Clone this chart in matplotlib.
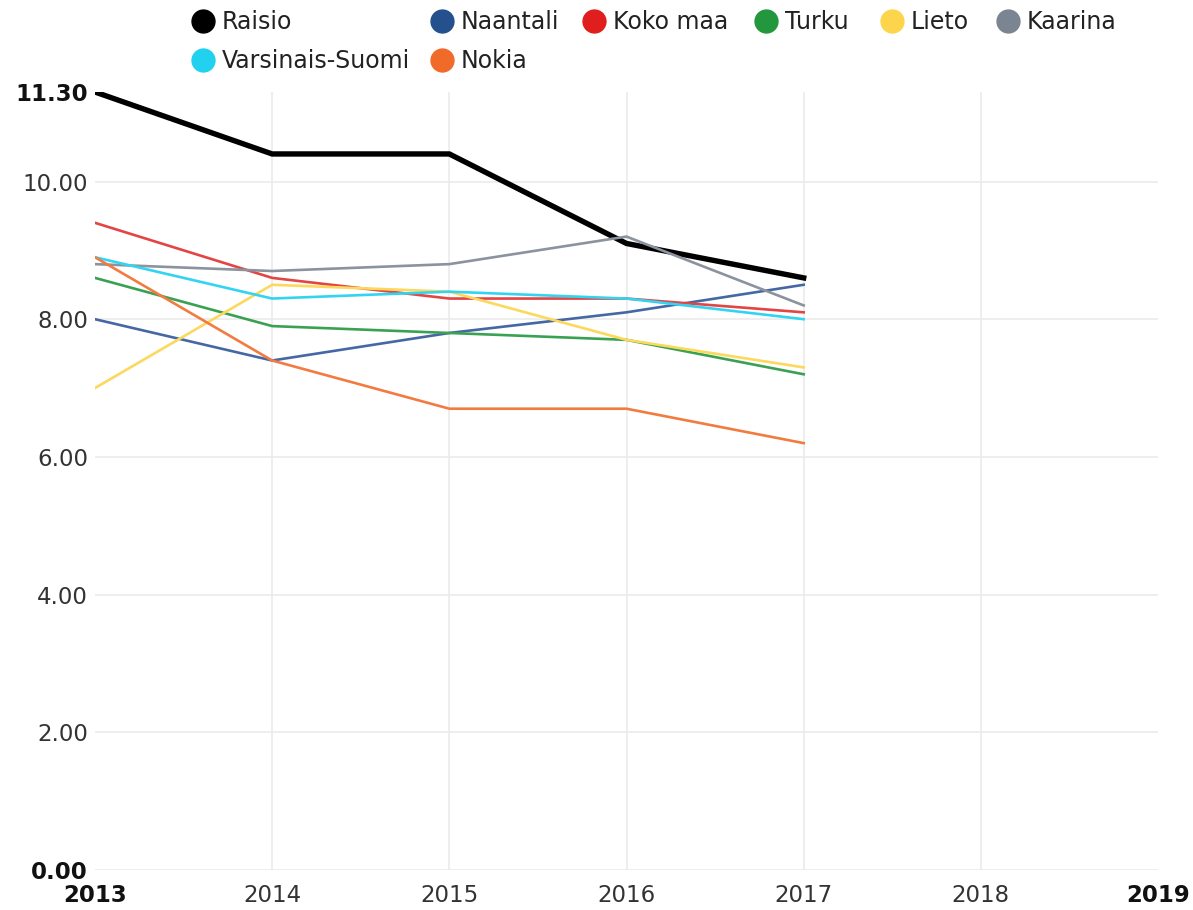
import matplotlib.pyplot as plt
from matplotlib.lines import Line2D

years = [2013, 2014, 2015, 2016, 2017]

raisio = [11.3, 10.4, 10.4, 9.1, 8.6]
naantali = [8.0, 7.4, 7.8, 8.1, 8.5]
kokoMaa = [9.4, 8.6, 8.3, 8.3, 8.1]
turku = [8.6, 7.9, 7.8, 7.7, 7.2]
lieto = [7.0, 8.5, 8.4, 7.7, 7.3]
kaarina = [8.8, 8.7, 8.8, 9.2, 8.2]
varsinaisSuomi = [8.9, 8.3, 8.4, 8.3, 8.0]
nokia = [8.9, 7.4, 6.7, 6.7, 6.2]

seriesNames = ["Raisio", "Naantali", "Koko maa", "Turku", "Lieto", "Kaarina",
               "Varsinais-Suomi", "Nokia"]
seriesValues = [raisio, naantali, kokoMaa, turku, lieto, kaarina, varsinaisSuomi, nokia]
seriesColors = ["#000000", "#24508e", "#e01e1e", "#22973d", "#fcd54c", "#7b8592",
                "#22d1f0", "#f06a2a"]
lineColors = ["#000000", "#4567a3", "#e34444", "#3aa153", "#fcd85c", "#8a939e",
              "#33d4f2", "#f27b3f"]

yTicks = [0, 2, 4, 6, 8, 10, 11.3]
xTicks = [2013, 2014, 2015, 2016, 2017, 2018, 2019]

W, H = 1193, 910
fig = plt.figure(figsize=(W / 100, H / 100), dpi=100)
ax = fig.add_axes([95 / W, 40 / H, (1158 - 95) / W, (870 - 92) / H])

for name, values, color in zip(seriesNames, seriesValues, lineColors):
    width = 3.9 if name == "Raisio" else 1.9
    ax.plot(years, values, color=color, linewidth=width, solid_joinstyle="miter")

ax.set_xlim(2013, 2019)
ax.set_ylim(0, 11.3)
ax.set_xticks(xTicks)
ax.set_yticks(yTicks)
ax.set_xticklabels([str(y) for y in xTicks])
ax.set_yticklabels(["%.2f" % v for v in yTicks])

for spine in ax.spines.values():
    spine.set_visible(False)
ax.tick_params(axis="both", length=0, labelsize=16.5, colors="#333333")
ax.tick_params(axis="x", pad=10)
ax.tick_params(axis="y", pad=5)

for lbl in [ax.get_xticklabels()[0], ax.get_xticklabels()[-1],
            ax.get_yticklabels()[0], ax.get_yticklabels()[-1]]:
    lbl.set_fontweight("bold")
    lbl.set_color("#111111")

ax.grid(True, color="#ebebeb", linewidth=1.2)
ax.set_axisbelow(True)
xLines = ax.get_xgridlines()
xLines[0].set_visible(False)
xLines[-1].set_visible(False)
ax.get_ygridlines()[-1].set_visible(False)

# legend drawn by hand: marker centre x (px) and row for each series
legendX = [203, 442, 594, 766, 892, 1008, 203, 442]
legendRow = [0, 0, 0, 0, 0, 0, 1, 1]
rowCentre = [21, 60]
for name, color, lx, row in zip(seriesNames, seriesColors, legendX, legendRow):
    cy = rowCentre[row]
    fig.add_artist(Line2D([lx / W], [1 - cy / H], transform=fig.transFigure,
                          linestyle="none", marker="o", markersize=16.5,
                          markerfacecolor=color, markeredgecolor=color))
    fig.text((lx + 19) / W, 1 - (cy + 8) / H, name, fontsize=17,
             color="#222222", ha="left", va="baseline")

fig.savefig("out.png", dpi=100)
